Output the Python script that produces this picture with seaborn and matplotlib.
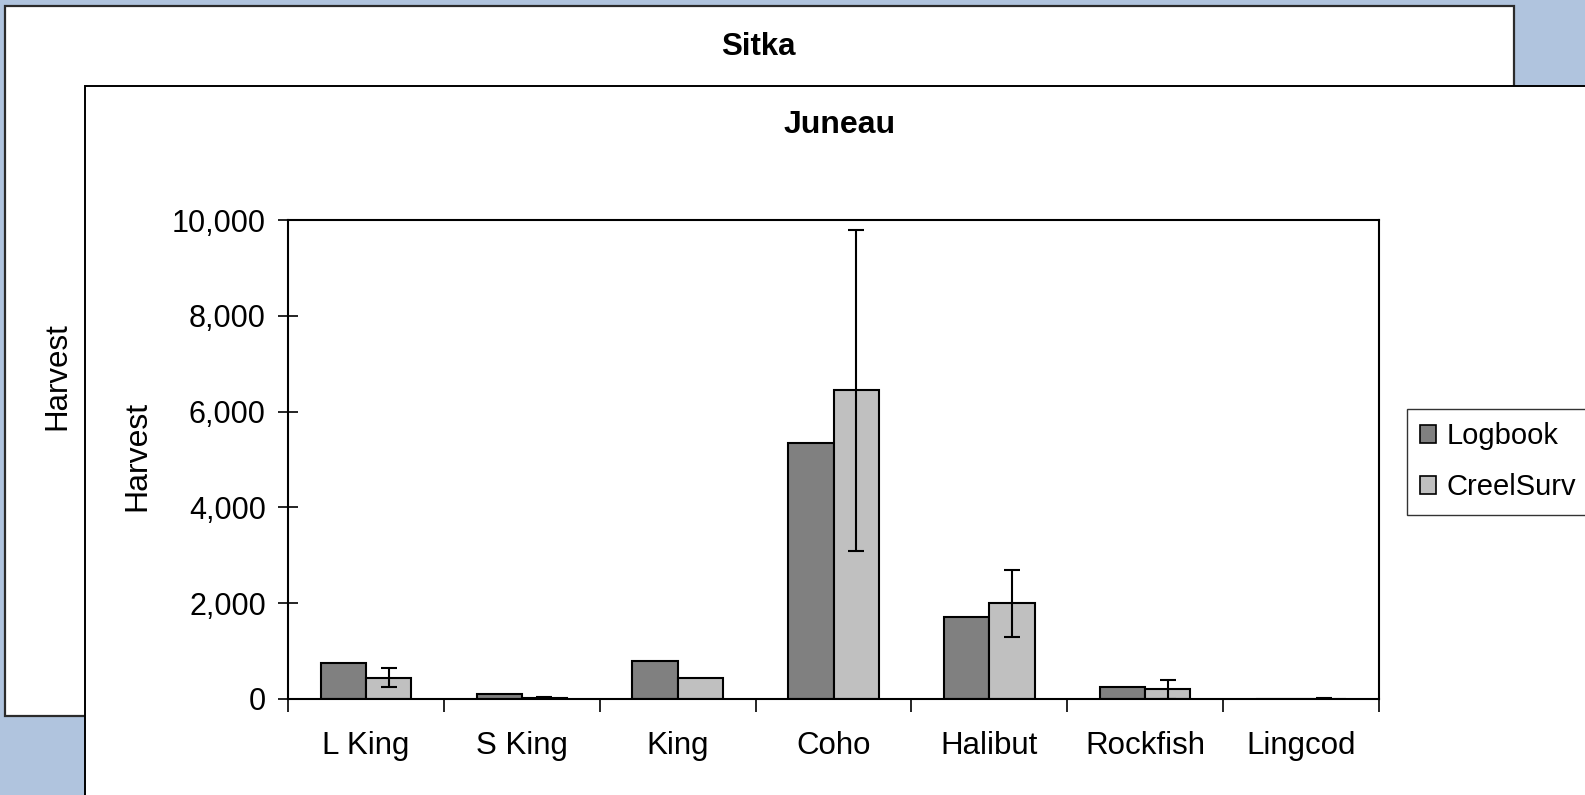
import matplotlib
matplotlib.use("Agg")
import matplotlib.pyplot as plt
import matplotlib.ticker as mticker
from matplotlib.patches import Rectangle
import numpy as np
import pandas as pd
import seaborn as sns

# Juneau harvest by species
species = ["L King", "S King", "King", "Coho", "Halibut", "Rockfish", "Lingcod"]
logbook = [745, 98, 800, 5340, 1705, 244, 3]
creel = [445, 15, 445, 6455, 2003, 203, 5]
creel_lo = [244, 0, np.nan, 3085, 1290, 0, 0]
creel_hi = [641, 50, np.nan, 9790, 2700, 397, 20]

W, H = 1585, 795

def fx(px):
    return px / W

def fy(py):
    return 1 - py / H

df = pd.DataFrame({
    "Species": species * 2,
    "Harvest": logbook + creel,
    "Source": ["Logbook"] * len(species) + ["CreelSurv"] * len(species),
})

sns.set_theme(style="white")
plt.rcParams["font.family"] = ["Liberation Sans", "DejaVu Sans"]
plt.rcParams["text.color"] = "black"
plt.rcParams["xtick.labelcolor"] = "black"
plt.rcParams["ytick.labelcolor"] = "black"

fig = plt.figure(figsize=(W / 100, H / 100), dpi=100, facecolor="#B0C4DE")

# back panel (Sitka) and front panel (Juneau)
fig.patches.append(Rectangle((fx(5), fy(716)), fx(1509), 710 / H, transform=fig.transFigure,
                             facecolor="white", edgecolor="#2b2b2b", linewidth=1.6, zorder=-3))
fig.text(fx(758), fy(47), "Sitka", ha="center", va="center", fontsize=22.5, fontweight="bold", zorder=-2)
fig.text(fx(57), fy(376), "Harvest", ha="center", va="center", rotation=90, fontsize=22.5, zorder=-2)
fig.patches.append(Rectangle((fx(85), fy(805)), fx(1520), 719 / H, transform=fig.transFigure,
                             facecolor="white", edgecolor="black", linewidth=1.4, zorder=-1))

ax = fig.add_axes([fx(288), fy(699), fx(1379 - 288), (699 - 220) / H])
ax.set_facecolor("white")
sns.barplot(data=df, x="Species", y="Harvest", hue="Source", palette=["#808080", "#C0C0C0"],
            width=0.58, gap=0, errorbar=None, edgecolor="black", linewidth=1.5, ax=ax)

bars = ax.containers[1]
xs = [p.get_x() + p.get_width() / 2 for p in bars]
for x, v, lo, hi in zip(xs, creel, creel_lo, creel_hi):
    if np.isnan(lo):
        continue
    ax.errorbar([x], [v], yerr=[[v - lo], [hi - v]], fmt="none", ecolor="black",
                elinewidth=1.5, capsize=6, capthick=1.5, zorder=5)

ax.set_ylim(0, 10000)
ax.set_xlim(-0.5, len(species) - 0.5)
ax.set_yticks(range(0, 10001, 2000))
ax.yaxis.set_major_formatter(mticker.FuncFormatter(lambda v, p: f"{int(v):,}"))
ax.set_xticks(np.arange(len(species)))
ax.set_xticklabels(species)
ax.set_xticks(np.arange(-0.5, len(species)), minor=True)
ax.tick_params(axis="x", which="major", length=0, pad=23, labelsize=22.5)
ax.tick_params(axis="x", which="minor", length=9, width=1.2, direction="out", color="black")
ax.tick_params(axis="y", which="major", length=14, width=1.2, direction="inout", color="black",
               pad=9, labelsize=22)
ax.tick_params(left=True, bottom=True, which="both")
for s in ax.spines.values():
    s.set_color("black")
    s.set_linewidth(1.5)
ax.set_xlabel("")
ax.set_ylabel("")

fig.text(fx(840), fy(125), "Juneau", ha="center", va="center", fontsize=23, fontweight="bold")
fig.text(fx(137), fy(456), "Harvest", ha="center", va="center", rotation=90, fontsize=23)

ax.legend_.remove()
handles = [Rectangle((0, 0), 1, 1, facecolor=c, edgecolor="black", linewidth=1.2)
           for c in ["#808080", "#C0C0C0"]]
leg = fig.legend(handles, ["Logbook", "CreelSurv"], loc="upper left",
                 bbox_to_anchor=(fx(1407), fy(409)), fontsize=21, frameon=True, fancybox=False,
                 handlelength=0.55, handleheight=0.55, handletextpad=0.35, labelspacing=0.8,
                 borderpad=0.45, borderaxespad=0)
leg.get_frame().set_edgecolor("black")
leg.get_frame().set_linewidth(1.0)

fig.savefig("out.png", dpi=100, facecolor=fig.get_facecolor())
